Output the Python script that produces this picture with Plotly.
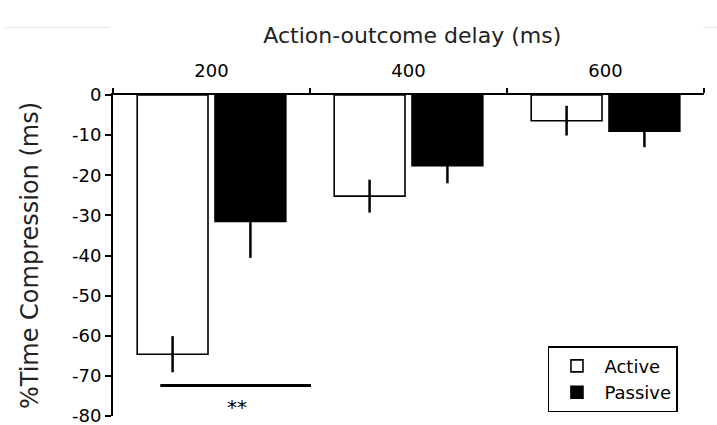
import plotly.graph_objects as go

categories = ["200", "400", "600"]
active = [-64.6, -25.2, -6.4]
active_err = [4.5, 4.1, 3.7]
passive = [-31.5, -17.6, -9.0]
passive_err = [9.1, 4.4, 4.0]
y_ticks = [0, -10, -20, -30, -40, -50, -60, -70, -80]

FONT = "DejaVu Sans"

fig = go.Figure()
fig.add_trace(go.Bar(
    x=categories, y=active, name="Active",
    marker=dict(color="white", line=dict(color="black", width=1.6)),
    error_y=dict(type="data", array=active_err, color="black", thickness=2.5, width=0),
))
fig.add_trace(go.Bar(
    x=categories, y=passive, name="Passive",
    marker=dict(color="black", line=dict(color="black", width=1.6)),
    error_y=dict(type="data", array=passive_err, color="black", thickness=2.5, width=0),
))

# significance marker
sig_x = [-0.26, 0.505]
sig_y = -72.4
fig.add_shape(type="line", xref="x", yref="y", x0=sig_x[0], x1=sig_x[1], y0=sig_y, y1=sig_y,
              line=dict(color="black", width=3))
fig.add_annotation(x=0.13, y=-77.8, xref="x", yref="y", text="**", showarrow=False,
                   font=dict(family=FONT, size=20, color="black"))

# faint lines at top
fig.add_shape(type="line", xref="paper", yref="paper", x0=-0.183, x1=-0.005, y0=1.21, y1=1.21,
              line=dict(color="#e6e6e6", width=1))
fig.add_shape(type="line", xref="paper", yref="paper", x0=0.999, x1=1.03, y0=1.21, y1=1.21,
              line=dict(color="#e6e6e6", width=1))

fig.update_layout(
    width=717, height=425,
    margin=dict(l=113, r=13, t=95, b=9, autoexpand=False),
    paper_bgcolor="white", plot_bgcolor="white",
    barmode="group", bargap=0.21, bargroupgap=0.09,
    font=dict(family=FONT, color="black"),
    title=dict(text="Action-outcome delay (ms)", x=0.575, xanchor="center", y=0.918, yanchor="middle",
               font=dict(family=FONT, size=22, color="#222")),
    xaxis=dict(side="top", type="category", tickson="boundaries", ticks="outside", ticklen=5,
               tickwidth=2, tickcolor="black", showline=True, linecolor="black", linewidth=2,
               showgrid=False, zeroline=False, tickfont=dict(size=18, color="black"),
               ticklabelstandoff=9, range=[-0.5, 2.5], automargin=False),
    yaxis=dict(range=[-80, 0], tickvals=y_ticks, ticktext=[str(v) for v in y_ticks],
               ticks="outside", ticklen=6, tickwidth=2, tickcolor="black",
               showline=True, linecolor="black", linewidth=2, showgrid=False, zeroline=False,
               tickfont=dict(size=18, color="black"), ticklabeloverflow="allow", automargin=False,
               title=dict(text="%Time Compression (ms)", font=dict(size=24, color="#222"), standoff=27)),
    legend=dict(x=0.736, y=0.012, xanchor="left", yanchor="bottom",
                bordercolor="black", borderwidth=1.5, bgcolor="white",
                font=dict(size=18, color="black"), itemwidth=45, tracegroupgap=0),
)

fig.write_html("out.html")
